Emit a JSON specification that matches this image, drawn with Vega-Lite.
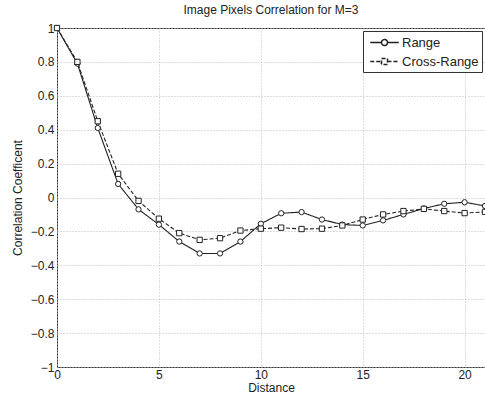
{
  "$schema": "https://vega.github.io/schema/vega-lite/v6.json",
  "width": 428,
  "height": 339,
  "autosize": "none",
  "padding": {"left": 57, "top": 28, "right": 0, "bottom": 36},
  "background": "white",
  "title": {"text": "Image Pixels Correlation for M=3", "fontSize": 12, "fontWeight": "normal", "font": "Liberation Sans", "color": "#222", "offset": 5},
  "config": {
    "view": {"stroke": "#333", "strokeWidth": 1},
    "font": "Liberation Sans",
    "axis": {"labelFont": "Liberation Sans", "titleFont": "Liberation Sans", "labelFontSize": 12, "titleFontSize": 12, "titleFontWeight": "normal", "labelColor": "#222", "titleColor": "#222", "gridColor": "#bbb", "gridDash": [1, 2], "ticks": false, "domain": false}
  },
  "data": {"values": [
    {"d": 0, "v": 1.0, "s": "Range"}, {"d": 1, "v": 0.79, "s": "Range"}, {"d": 2, "v": 0.41, "s": "Range"}, {"d": 3, "v": 0.08, "s": "Range"}, {"d": 4, "v": -0.07, "s": "Range"}, {"d": 5, "v": -0.16, "s": "Range"}, {"d": 6, "v": -0.26, "s": "Range"}, {"d": 7, "v": -0.33, "s": "Range"}, {"d": 8, "v": -0.33, "s": "Range"}, {"d": 9, "v": -0.26, "s": "Range"}, {"d": 10, "v": -0.155, "s": "Range"}, {"d": 11, "v": -0.093, "s": "Range"}, {"d": 12, "v": -0.086, "s": "Range"}, {"d": 13, "v": -0.13, "s": "Range"}, {"d": 14, "v": -0.16, "s": "Range"}, {"d": 15, "v": -0.165, "s": "Range"}, {"d": 16, "v": -0.135, "s": "Range"}, {"d": 17, "v": -0.10, "s": "Range"}, {"d": 18, "v": -0.065, "s": "Range"}, {"d": 19, "v": -0.037, "s": "Range"}, {"d": 20, "v": -0.028, "s": "Range"}, {"d": 21, "v": -0.05, "s": "Range"},
    {"d": 0, "v": 1.0, "s": "Cross-Range"}, {"d": 1, "v": 0.80, "s": "Cross-Range"}, {"d": 2, "v": 0.45, "s": "Cross-Range"}, {"d": 3, "v": 0.14, "s": "Cross-Range"}, {"d": 4, "v": -0.02, "s": "Cross-Range"}, {"d": 5, "v": -0.125, "s": "Cross-Range"}, {"d": 6, "v": -0.21, "s": "Cross-Range"}, {"d": 7, "v": -0.25, "s": "Cross-Range"}, {"d": 8, "v": -0.24, "s": "Cross-Range"}, {"d": 9, "v": -0.195, "s": "Cross-Range"}, {"d": 10, "v": -0.184, "s": "Cross-Range"}, {"d": 11, "v": -0.178, "s": "Cross-Range"}, {"d": 12, "v": -0.186, "s": "Cross-Range"}, {"d": 13, "v": -0.184, "s": "Cross-Range"}, {"d": 14, "v": -0.165, "s": "Cross-Range"}, {"d": 15, "v": -0.13, "s": "Cross-Range"}, {"d": 16, "v": -0.10, "s": "Cross-Range"}, {"d": 17, "v": -0.08, "s": "Cross-Range"}, {"d": 18, "v": -0.067, "s": "Cross-Range"}, {"d": 19, "v": -0.08, "s": "Cross-Range"}, {"d": 20, "v": -0.092, "s": "Cross-Range"}, {"d": 21, "v": -0.085, "s": "Cross-Range"}
  ]},
  "encoding": {
    "x": {"field": "d", "type": "quantitative", "scale": {"domain": [0, 21], "nice": false, "zero": false}, "axis": {"title": "Distance", "values": [0, 5, 10, 15, 20], "grid": true, "labelFlush": false, "labelPadding": 2, "titlePadding": 2}},
    "y": {"field": "v", "type": "quantitative", "scale": {"domain": [-1, 1], "nice": false}, "axis": {"title": "Correlation Coefficent", "values": [-1, -0.8, -0.6, -0.4, -0.2, 0, 0.2, 0.4, 0.6, 0.8, 1], "format": ".1~f", "grid": true, "labelFlush": false, "labelPadding": 3, "titlePadding": 6}}
  },
  "layer": [
    {
      "mark": {"type": "line", "color": "#222", "strokeWidth": 1.1},
      "encoding": {
        "strokeDash": {"field": "s", "type": "nominal", "scale": {"domain": ["Range", "Cross-Range"], "range": [[1, 0], [4, 2]]},
          "legend": {"title": null, "orient": "top-right", "offset": 3, "strokeColor": "#333", "fillColor": "white", "padding": 3, "labelFontSize": 13, "labelFont": "Liberation Sans", "labelColor": "#222", "symbolSize": 225, "symbolOffset": 10, "rowPadding": 3, "labelOffset": 9, "cornerRadius": 0,
            "encode": {"symbols": {"update": {"fill": {"value": "white"}, "stroke": {"value": "#222"}, "strokeWidth": {"value": 1.1}, "opacity": {"value": 1}}}}}}
      }
    },
    {
      "mark": {"type": "point", "filled": false, "opacity": 0, "size": 0},
      "encoding": {
        "shape": {"field": "s", "type": "nominal", "scale": {"domain": ["Range", "Cross-Range"], "range": ["M-1.9,0H-0.4M0.4,0H1.9M0.4,0A0.4,0.4,0,1,1,-0.4,0A0.4,0.4,0,1,1,0.4,0", "M-1.9,0H-0.4M0.4,0H1.9M-0.4,-0.4H0.4V0.4H-0.4Z"]}}
      }
    },
    {
      "transform": [{"filter": "datum.s === 'Range'"}],
      "mark": {"type": "point", "shape": "circle", "filled": true, "fill": "white", "stroke": "#222", "strokeWidth": 1, "size": 28, "opacity": 1}
    },
    {
      "transform": [{"filter": "datum.s === 'Cross-Range'"}],
      "mark": {"type": "point", "shape": "square", "filled": true, "fill": "white", "stroke": "#222", "strokeWidth": 1, "size": 28, "opacity": 1}
    }
  ]
}
